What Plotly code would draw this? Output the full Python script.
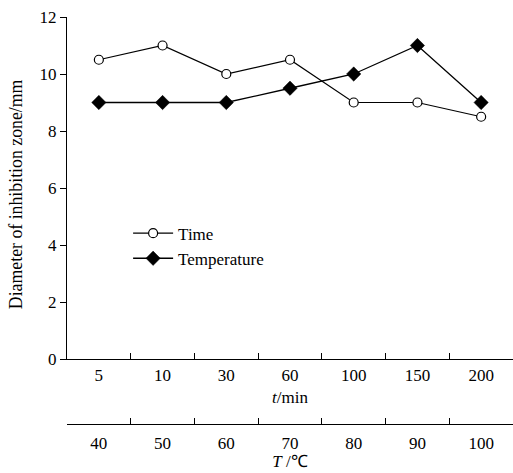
import plotly.graph_objects as go

time_labels = ["5", "10", "30", "60", "100", "150", "200"]
temp_labels = ["40", "50", "60", "70", "80", "90", "100"]
time_values = [10.5, 11, 10, 10.5, 9, 9, 8.5]
temp_values = [9, 9, 9, 9.5, 10, 11, 9]
y_ticks = [0, 2, 4, 6, 8, 10, 12]

FONT = "Liberation Serif"
FS = 17

fig = go.Figure()
fig.add_trace(go.Scatter(
    x=time_labels, y=time_values, name="Time", mode="lines+markers",
    line=dict(color="black", width=1.2),
    marker=dict(symbol="circle", size=9, color="white", line=dict(color="black", width=1.2)),
    legendgroup="a", xaxis="x", yaxis="y"))
fig.add_trace(go.Scatter(
    x=time_labels, y=temp_values, name="Temperature", mode="lines+markers",
    line=dict(color="black", width=1.3),
    marker=dict(symbol="diamond", size=11, color="black", line=dict(color="black", width=0.5)),
    legendgroup="b", xaxis="x", yaxis="y"))
# invisible trace to establish second category axis
fig.add_trace(go.Scatter(
    x=temp_labels, y=[None]*len(temp_labels), showlegend=False, hoverinfo="skip",
    mode="markers", xaxis="x2", yaxis="y"))

fig.update_layout(
    width=513, height=473,
    margin=dict(l=67, r=0, t=17, b=49),
    plot_bgcolor="white", paper_bgcolor="white",
    font=dict(family=FONT, size=FS, color="black"),
    showlegend=True,
    legend=dict(x=0.137, y=0.512, xanchor="left", yanchor="top",
                bgcolor="rgba(0,0,0,0)", font=dict(size=FS, family=FONT),
                tracegroupgap=0, itemwidth=40),
    xaxis=dict(type="category", categoryorder="array", categoryarray=time_labels,
               range=[-0.5, 6.5], showline=True, linecolor="black", linewidth=1.2,
               ticks="inside", tickson="boundaries", ticklen=6, tickcolor="black", tickwidth=1.2,
               showgrid=False, zeroline=False, anchor="y", automargin=False,
               title=dict(text="<i>t</i>/min", standoff=7, font=dict(size=FS)),
               tickfont=dict(size=FS)),
    xaxis2=dict(type="category", categoryorder="array", categoryarray=temp_labels,
                range=[-0.5, 6.5], showline=True, linecolor="black", linewidth=1.2,
                ticks="inside", tickson="boundaries", ticklen=6, tickcolor="black", tickwidth=1.2,
                showgrid=False, zeroline=False, overlaying="x", anchor="free", position=0,
                side="bottom", automargin=False, ticklabelstandoff=3,
                title=dict(text="<i>T</i> /℃", standoff=0, font=dict(size=FS)),
                tickfont=dict(size=FS)),
    yaxis=dict(domain=[0.1597, 1], range=[0, 12], tickvals=y_ticks,
               showline=True, linecolor="black", linewidth=1.2,
               ticks="outside", ticklen=6, tickcolor="black", tickwidth=1.2,
               showgrid=False, zeroline=False, automargin=False,
               tickfont=dict(size=FS)),
    annotations=[dict(text="Diameter of inhibition zone/mm", textangle=-90,
                      xref="paper", yref="paper", x=-0.114, y=0.565,
                      xanchor="center", yanchor="middle", showarrow=False,
                      font=dict(size=17.8, family=FONT))],
)

fig.write_html("out.html", config={"displayModeBar": False},
               post_script="document.body.style.margin='0';document.body.style.padding='0';")
